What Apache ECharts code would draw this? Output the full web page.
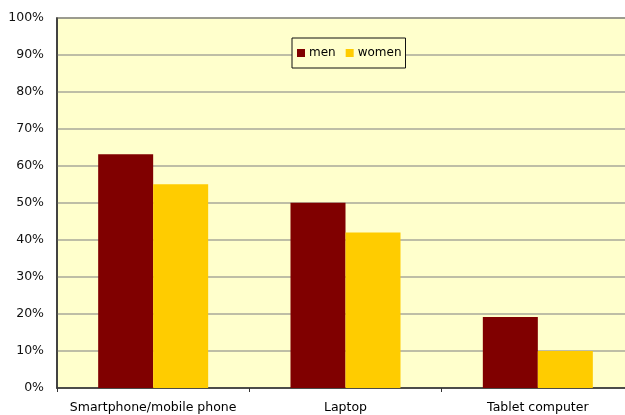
<!DOCTYPE html>
<html><head><meta charset="utf-8">
<script src="https://cdn.jsdelivr.net/npm/echarts@6/dist/echarts.min.js"></script>
<style>html,body{margin:0;padding:0;background:#fff}#c{width:625px;height:415px}</style>
</head><body><div id="c"></div>
<script>
var categories = ['Smartphone/mobile phone', 'Laptop', 'Tablet computer'];
var menValues = [63.2, 50.1, 19.2];
var womenValues = [55.1, 42.0, 10.0];
var seriesNames = ['men', 'women'];

var chart = echarts.init(document.getElementById('c'));
chart.setOption({
  backgroundColor: '#ffffff',
  animation: false,
  textStyle: { fontFamily: 'DejaVu Sans, sans-serif' },
  grid: { left: 57, width: 577, top: 18, bottom: 27, containLabel: false, outerBoundsMode: 'none', show: true, backgroundColor: '#FFFFCC', borderColor: '#4a4a4a', borderWidth: 1.5 },
  legend: {
    data: seriesNames,
    left: 292, top: 38,
    orient: 'horizontal',
    icon: 'rect',
    itemWidth: 8, itemHeight: 8, itemGap: 10,
    padding: [9, 4, 9, 5],
    borderColor: '#111', borderWidth: 1,
    backgroundColor: '#FFFFCC',
    textStyle: { fontSize: 12, color: '#000', padding: [0, 0, 0, -1] }
  },
  xAxis: {
    type: 'category',
    data: categories,
    axisLine: { show: true, lineStyle: { color: '#333', width: 1.5 } },
    axisTick: { show: true, length: 4, lineStyle: { color: '#333' } },
    axisLabel: { fontSize: 12.5, color: '#000', margin: 13, interval: 0 }
  },
  yAxis: {
    type: 'value', min: 0, max: 100, interval: 10,
    axisLine: { show: true, lineStyle: { color: '#333', width: 1.5 } },
    axisTick: { show: false },
    axisLabel: { formatter: '{value}%', fontSize: 12.5, color: '#111', margin: 13 },
    splitLine: { show: true, lineStyle: { color: '#a8a89a', width: 1.5 } }
  },
  series: [
    { name: seriesNames[0], type: 'bar', data: menValues, barWidth: 55, barGap: '0%', itemStyle: { color: '#800000' } },
    { name: seriesNames[1], type: 'bar', data: womenValues, barWidth: 55, barGap: '0%', itemStyle: { color: '#FFCC00' } }
  ]
});
</script></body></html>
